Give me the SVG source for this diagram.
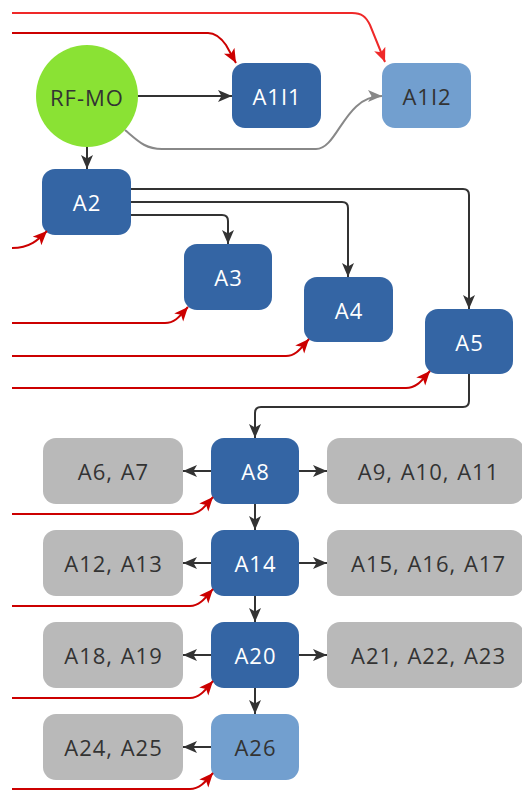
<svg xmlns="http://www.w3.org/2000/svg" width="522" height="790" viewBox="0 0 522 790">
<style>
.dk{fill:#3465a4}
.lt{fill:#729fcf}
.gr{fill:#b9b9b9}
text{font-family:"Open Sans","Liberation Sans",sans-serif;font-size:22px;letter-spacing:1px;word-spacing:1px;text-anchor:middle;dominant-baseline:central}
.w{fill:#ffffff}
.b{fill:#333333}
.c{fill:none;stroke-width:2}
.k{stroke:#333333}
.g{stroke:#888888}
.r{stroke:#cc0000}
.rb{stroke:#ef2929}
</style>
<defs>
<marker id="ak" markerUnits="userSpaceOnUse" markerWidth="16" markerHeight="14" refX="14" refY="6" orient="auto"><path d="M0,0 L14,6 L0,12 L3.5,6 z" fill="#333333"/></marker>
<marker id="ag" markerUnits="userSpaceOnUse" markerWidth="16" markerHeight="14" refX="14" refY="6" orient="auto"><path d="M0,0 L14,6 L0,12 L3.5,6 z" fill="#888888"/></marker>
<marker id="ar" markerUnits="userSpaceOnUse" markerWidth="16" markerHeight="14" refX="14" refY="6" orient="auto"><path d="M0,0 L14,6 L0,12 L3.5,6 z" fill="#cc0000"/></marker>
<marker id="arb" markerUnits="userSpaceOnUse" markerWidth="16" markerHeight="14" refX="14" refY="6" orient="auto"><path d="M0,0 L14,6 L0,12 L3.5,6 z" fill="#ef2929"/></marker>
</defs>
<g id="RF-MO"><circle cx="87" cy="96" r="51" fill="#8ae234"/><text x="87" y="97" class="b">RF-MO</text></g>
<g id="A1I1"><rect x="232" y="63" width="89" height="65" rx="13" class="dk"/><text x="277" y="96" class="w">A1I1</text></g>
<g id="A1I2"><rect x="382" y="63" width="89" height="65" rx="13" class="lt"/><text x="427" y="96" class="b">A1I2</text></g>
<g id="A2"><rect x="42" y="169" width="89" height="66" rx="13" class="dk"/><text x="87" y="202" class="w">A2</text></g>
<g id="A3"><rect x="184" y="244" width="88" height="66" rx="13" class="dk"/><text x="228.5" y="277" class="w">A3</text></g>
<g id="A4"><rect x="304" y="277" width="89" height="65" rx="13" class="dk"/><text x="349" y="310" class="w">A4</text></g>
<g id="A5"><rect x="425" y="309" width="88" height="65" rx="13" class="dk"/><text x="469.5" y="342" class="w">A5</text></g>
<g id="A8"><rect x="211" y="438" width="88" height="66" rx="13" class="dk"/><text x="255.5" y="471" class="w">A8</text></g>
<g id="A6A7"><rect x="43" y="438" width="140" height="66" rx="13" class="gr"/><text x="113.5" y="471" class="b">A6, A7</text></g>
<g id="A9A10A11"><rect x="327" y="438" width="197" height="66" rx="13" class="gr"/><text x="428.5" y="471" class="b">A9, A10, A11</text></g>
<g id="A14"><rect x="211" y="530" width="88" height="66" rx="13" class="dk"/><text x="255.5" y="563" class="w">A14</text></g>
<g id="A12A13"><rect x="43" y="530" width="140" height="66" rx="13" class="gr"/><text x="113.5" y="563" class="b">A12, A13</text></g>
<g id="A15A16A17"><rect x="327" y="530" width="197" height="66" rx="13" class="gr"/><text x="428.5" y="563" class="b">A15, A16, A17</text></g>
<g id="A20"><rect x="211" y="622" width="88" height="66" rx="13" class="dk"/><text x="255.5" y="655" class="w">A20</text></g>
<g id="A18A19"><rect x="43" y="622" width="140" height="66" rx="13" class="gr"/><text x="113.5" y="655" class="b">A18, A19</text></g>
<g id="A21A22A23"><rect x="327" y="622" width="197" height="66" rx="13" class="gr"/><text x="428.5" y="655" class="b">A21, A22, A23</text></g>
<g id="A26"><rect x="211" y="714" width="88" height="66" rx="13" class="lt"/><text x="255.5" y="747" class="b">A26</text></g>
<g id="A24A25"><rect x="43" y="714" width="140" height="66" rx="13" class="gr"/><text x="113.5" y="747" class="b">A24, A25</text></g>
<g id="connectors">
<path class="c k" marker-end="url(#ak)" d="M138,96 H232"/>
<path class="c g" marker-end="url(#ag)" d="M125,130 C138,141 145,149 162,149 H316 C338,149 344,96 382,96"/>
<path class="c k" marker-end="url(#ak)" d="M87,147 V169"/>
<path class="c k" marker-end="url(#ak)" d="M131,189 H463 Q469,189 469,195 V309"/>
<path class="c k" marker-end="url(#ak)" d="M131,202 H342 Q348,202 348,208 V277"/>
<path class="c k" marker-end="url(#ak)" d="M131,215 H222 Q228,215 228,221 V244"/>
<path class="c k" marker-end="url(#ak)" d="M469,374 V401 Q469,407 463,407 H261 Q255,407 255,413 V438"/>
<path class="c k" marker-end="url(#ak)" d="M211,471 H183"/>
<path class="c k" marker-end="url(#ak)" d="M299,471 H327"/>
<path class="c k" marker-end="url(#ak)" d="M255,504 V530"/>
<path class="c k" marker-end="url(#ak)" d="M211,563 H183"/>
<path class="c k" marker-end="url(#ak)" d="M299,563 H327"/>
<path class="c k" marker-end="url(#ak)" d="M255,596 V622"/>
<path class="c k" marker-end="url(#ak)" d="M211,655 H183"/>
<path class="c k" marker-end="url(#ak)" d="M299,655 H327"/>
<path class="c k" marker-end="url(#ak)" d="M255,688 V714"/>
<path class="c k" marker-end="url(#ak)" d="M211,747 H183"/>
<path class="c rb" marker-end="url(#arb)" d="M12,13 H352 C362,13 366,17 370,25 L385,62"/>
<path class="c r" marker-end="url(#ar)" d="M12,33 H208 C216,33 221,38 226,45 L236,63"/>
<path class="c r" marker-end="url(#ar)" d="M12,248 C30,248 38,240 47,231"/>
<path class="c r" marker-end="url(#ar)" d="M12,323 H165 C175,323 180,316 188,307"/>
<path class="c r" marker-end="url(#ar)" d="M12,356 H286 C296,356 301,348 309,339"/>
<path class="c r" marker-end="url(#ar)" d="M12,388 H406 C417,388 422,380 430,371"/>
<path class="c r" marker-end="url(#ar)" d="M12,514 H190 C200,514 206,505 213,497"/>
<path class="c r" marker-end="url(#ar)" d="M12,606 H190 C200,606 206,597 213,589"/>
<path class="c r" marker-end="url(#ar)" d="M12,698 H190 C200,698 206,689 213,681"/>
<path class="c r" marker-end="url(#ar)" d="M12,789 H190 C200,789 206,781 213,773"/>
</g>
</svg>
